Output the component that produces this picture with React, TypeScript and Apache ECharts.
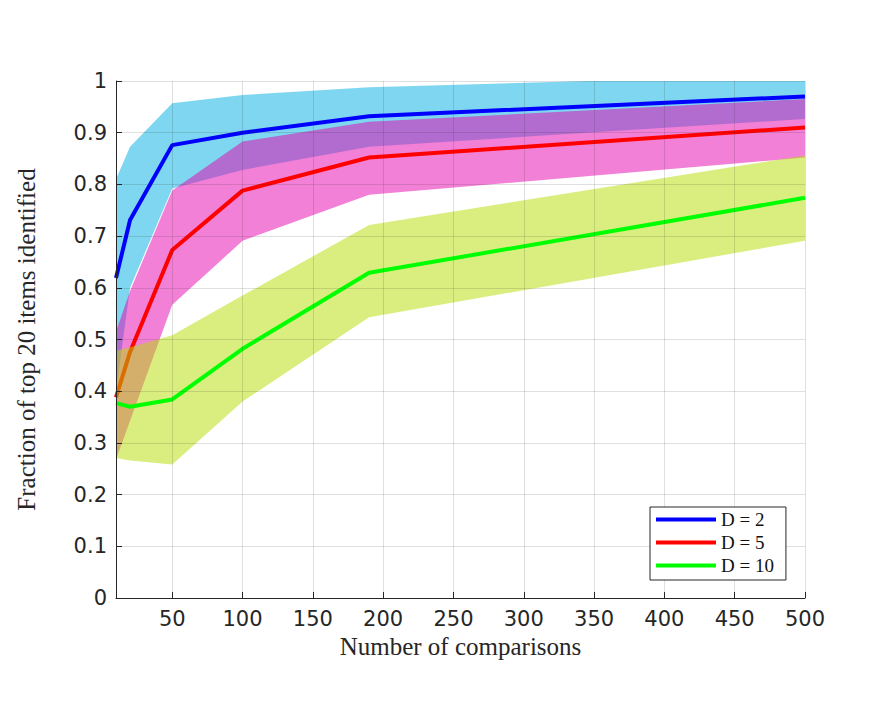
import React, { useEffect, useRef } from 'react';
import * as echarts from 'echarts';

const comparisons = [10, 20, 50, 100, 190, 500];

const meanD2 = [0.619, 0.731, 0.876, 0.9, 0.932, 0.97];
const lowerD2 = [0.4, 0.6, 0.792, 0.828, 0.873, 0.9265];
const upperD2 = [0.81, 0.873, 0.957, 0.973, 0.988, 1.012];

const meanD5 = [0.388, 0.476, 0.673, 0.788, 0.852, 0.91];
const lowerD5 = [0.268, 0.343, 0.567, 0.691, 0.78, 0.852];
const upperD5 = [0.515, 0.594, 0.788, 0.883, 0.921, 0.965];

const meanD10 = [0.377, 0.37, 0.384, 0.482, 0.629, 0.774];
const lowerD10 = [0.271, 0.266, 0.258, 0.38, 0.543, 0.691];
const upperD10 = [0.478, 0.485, 0.508, 0.585, 0.7215, 0.856];

const xTickValues = [50, 100, 150, 200, 250, 300, 350, 400, 450, 500];
const seriesNames = ['D = 2', 'D = 5', 'D = 10'];

const AXIS_COLOR = '#262626';
const SERIF = "'Liberation Serif', 'DejaVu Serif', serif";
const SANS = "'DejaVu Sans', sans-serif";

function pairs(values: number[]) {
  return comparisons.map((x, i) => [x, values[i]]);
}

function band(lower: number[], upper: number[], fill: string, z: number) {
  const n = comparisons.length;
  return {
    type: 'custom',
    silent: true,
    clip: true,
    z,
    encode: { x: 0, y: [1, 2] },
    data: comparisons.map((x, i) => [x, lower[i], upper[i]]),
    renderItem: (params: any, api: any) => {
      if (params.dataIndexInside !== 0) return null;
      const top: number[][] = [];
      const bottom: number[][] = [];
      for (let i = 0; i < n; i++) {
        const xv = api.value(0, i);
        top.push(api.coord([xv, api.value(2, i)]));
        bottom.push(api.coord([xv, api.value(1, i)]));
      }
      bottom.reverse();
      return {
        type: 'polygon',
        shape: { points: top.concat(bottom) },
        style: { fill, stroke: null, lineWidth: 0 },
      };
    },
  };
}

function meanLine(name: string, values: number[], color: string, z: number) {
  return {
    type: 'line',
    name,
    data: pairs(values),
    symbol: 'none',
    color,
    lineStyle: { color, width: 4 },
    z,
  };
}

export default function App() {
  const ref = useRef<HTMLDivElement>(null);

  useEffect(() => {
    if (!ref.current) return;
    const chart = echarts.init(ref.current, undefined, { renderer: 'svg' });
    const option: any = {
      animation: false,
      backgroundColor: '#ffffff',
      grid: {
        left: 116,
        right: 86,
        top: 81,
        bottom: 105,
        containLabel: false,
        outerBoundsMode: 'none',
      },
      legend: {
        data: seriesNames,
        orient: 'vertical',
        left: 650,
        top: 507,
        icon: 'rect',
        itemWidth: 60,
        itemHeight: 4,
        itemGap: 4,
        padding: [3, 12, 5, 6],
        backgroundColor: '#ffffff',
        borderColor: AXIS_COLOR,
        borderWidth: 1,
        borderRadius: 0,
        z: 20,
        textStyle: {
          fontFamily: SERIF,
          fontSize: 19,
          lineHeight: 19,
          color: '#111111',
        },
      },
      xAxis: {
        type: 'value',
        min: 10,
        max: 500,
        z: 8,
        name: 'Number of comparisons',
        nameLocation: 'middle',
        nameGap: 35,
        nameTextStyle: { fontFamily: SERIF, fontSize: 25, color: AXIS_COLOR },
        axisLine: { show: true, lineStyle: { color: AXIS_COLOR, width: 1 } },
        axisTick: {
          show: true,
          inside: true,
          length: 6,
          customValues: xTickValues,
          lineStyle: { color: AXIS_COLOR },
        },
        axisLabel: {
          customValues: xTickValues,
          fontFamily: SANS,
          fontSize: 21,
          color: AXIS_COLOR,
          margin: 10,
        },
        splitLine: { show: true, lineStyle: { color: 'rgba(38,38,38,0.15)', width: 1 } },
      },
      yAxis: {
        type: 'value',
        min: 0,
        max: 1,
        interval: 0.1,
        z: 8,
        name: 'Fraction of top 20 items identified',
        nameLocation: 'middle',
        nameGap: 77,
        nameTextStyle: { fontFamily: SERIF, fontSize: 25, color: AXIS_COLOR },
        axisLine: { show: true, lineStyle: { color: AXIS_COLOR, width: 1 } },
        axisTick: { show: true, inside: true, length: 6, lineStyle: { color: AXIS_COLOR } },
        axisLabel: {
          fontFamily: SANS,
          fontSize: 21,
          color: AXIS_COLOR,
          margin: 9,
        },
        splitLine: { show: true, lineStyle: { color: 'rgba(38,38,38,0.15)', width: 1 } },
      },
      series: [
        band(lowerD2, upperD2, 'rgba(0,173,225,0.5)', 2),
        meanLine(seriesNames[0], meanD2, '#0000ff', 3),
        band(lowerD5, upperD5, 'rgba(229,1,173,0.5)', 4),
        meanLine(seriesNames[1], meanD5, '#ff0000', 5),
        band(lowerD10, upperD10, 'rgba(179,221,0,0.5)', 6),
        meanLine(seriesNames[2], meanD10, '#00ff00', 7),
      ],
    };
    chart.setOption(option);
    return () => chart.dispose();
  }, []);

  return (
    <div
      ref={ref}
      style={{ position: 'fixed', left: 0, top: 0, width: 891, height: 703, background: '#ffffff' }}
    />
  );
}
